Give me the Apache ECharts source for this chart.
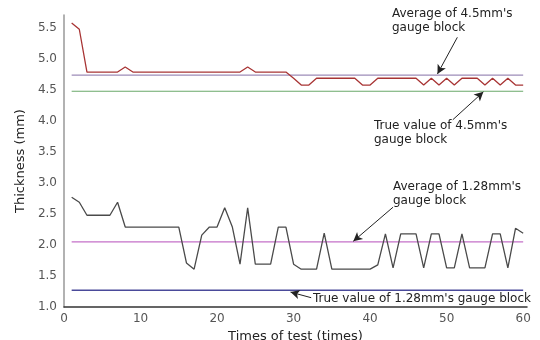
<!DOCTYPE html>
<html>
<head>
<meta charset="utf-8">
<script src="https://cdn.jsdelivr.net/npm/echarts@6/dist/echarts.min.js"></script>
<style>
  html, body { margin: 0; padding: 0; background: #fff; }
  #container { width: 540px; height: 340px; }
</style>
</head>
<body>
<div id="container"></div>
<script>
// test number 1..60
var tests = [];
for (var i = 1; i <= 60; i++) tests.push(i);

// 4.5mm gauge block readings
var thick45 = [5.58, 5.48, 4.79, 4.79, 4.79, 4.79, 4.79, 4.87, 4.79, 4.79,
               4.79, 4.79, 4.79, 4.79, 4.79, 4.79, 4.79, 4.79, 4.79, 4.79,
               4.79, 4.79, 4.79, 4.87, 4.79, 4.79, 4.79, 4.79, 4.79, 4.69,
               4.58, 4.58, 4.69, 4.69, 4.69, 4.69, 4.69, 4.69, 4.58, 4.58,
               4.69, 4.69, 4.69, 4.69, 4.69, 4.69, 4.58, 4.69, 4.58, 4.69,
               4.58, 4.69, 4.69, 4.69, 4.58, 4.69, 4.58, 4.69, 4.58, 4.58];

// 1.28mm gauge block readings
var thick128 = [2.77, 2.69, 2.48, 2.48, 2.48, 2.48, 2.69, 2.29, 2.29, 2.29,
                2.29, 2.29, 2.29, 2.29, 2.29, 1.71, 1.61, 2.16, 2.29, 2.29,
                2.60, 2.29, 1.69, 2.60, 1.69, 1.69, 1.69, 2.29, 2.29, 1.69,
                1.61, 1.61, 1.61, 2.19, 1.61, 1.61, 1.61, 1.61, 1.61, 1.61,
                1.68, 2.18, 1.63, 2.18, 2.18, 2.18, 1.63, 2.18, 2.18, 1.63,
                1.63, 2.18, 1.63, 1.63, 1.63, 2.18, 2.18, 1.63, 2.27, 2.19];

// reference lines
var avg45 = 4.74, true45 = 4.48, avg128 = 2.05, true128 = 1.27;

// annotation arrows [tailX, tailY, tipX, tipY] in data units
var arrows = [
  [51.4, 5.35, 48.8, 4.76],
  [50.8, 4.02, 54.8, 4.47],
  [43.0, 2.61, 37.8, 2.06],
  [32.3, 1.15, 29.6, 1.24]
];

function pairs(ys) {
  return ys.map(function (v, k) { return [tests[k], v]; });
}
function hline(v) {
  return [[tests[0], v], [tests[tests.length - 1], v]];
}

var myChart = echarts.init(document.getElementById('container'));
var font = 'DejaVu Sans, sans-serif';

var option = {
  animation: false,
  grid: { left: 64, right: 13, top: 15, bottom: 33, containLabel: false, outerBoundsMode: 'none' },
  xAxis: {
    type: 'value', min: 0, max: 60.5, interval: 10,
    name: 'Times of test (times)', nameLocation: 'middle', nameGap: 14,
    nameTextStyle: { fontFamily: font, fontSize: 13, color: '#222' },
    axisLine: { lineStyle: { color: '#333', width: 1.5 } },
    axisTick: { show: false },
    splitLine: { show: false },
    axisLabel: {
      fontFamily: font, fontSize: 12, color: '#555', margin: 6,
      formatter: function (v) { return v % 10 === 0 ? String(v) : ''; }
    }
  },
  yAxis: {
    type: 'value', min: 1.0, max: 5.71, interval: 0.5,
    name: 'Thickness (mm)', nameLocation: 'middle', nameGap: 34,
    nameTextStyle: { fontFamily: font, fontSize: 13, color: '#222' },
    axisLine: { show: true, lineStyle: { color: '#999', width: 1.5 } },
    axisTick: { show: false },
    splitLine: { show: false },
    axisLabel: {
      fontFamily: font, fontSize: 12, color: '#555', margin: 7,
      formatter: function (v) {
        return Math.abs(v * 2 - Math.round(v * 2)) < 1e-6 ? v.toFixed(1) : '';
      }
    }
  },
  series: [
    { type: 'line', data: hline(avg45), symbol: 'none', lineStyle: { color: '#9d8cb8', width: 1.2 } },
    { type: 'line', data: hline(true45), symbol: 'none', lineStyle: { color: '#6aa86a', width: 1.2 } },
    { type: 'line', data: hline(avg128), symbol: 'none', lineStyle: { color: '#c470c8', width: 1.2 } },
    { type: 'line', data: hline(true128), symbol: 'none', lineStyle: { color: '#4a4a9a', width: 1.5 } },
    { type: 'line', data: pairs(thick45), symbol: 'none', lineStyle: { color: '#a83434', width: 1.3 } },
    { type: 'line', data: pairs(thick128), symbol: 'none', lineStyle: { color: '#4a4a4a', width: 1.3 } },
    {
      type: 'line', data: [], symbol: 'none',
      markLine: {
        silent: true, animation: false,
        symbol: ['none', 'arrow'], symbolSize: [7, 9],
        label: { show: false },
        lineStyle: { color: '#222', width: 1, type: 'solid' },
        data: arrows.map(function (a) {
          return [{ coord: [a[0], a[1]] }, { coord: [a[2], a[3]] }];
        })
      }
    }
  ],
  graphic: [
    { type: 'text', left: 392, top: 7, style: { text: "Average of 4.5mm's\ngauge block", font: '12px ' + font, fill: '#222', lineHeight: 14 } },
    { type: 'text', left: 374, top: 119, style: { text: "True value of 4.5mm's\ngauge block", font: '12px ' + font, fill: '#222', lineHeight: 14 } },
    { type: 'text', left: 393, top: 180, style: { text: "Average of 1.28mm's\ngauge block", font: '12px ' + font, fill: '#222', lineHeight: 14 } },
    { type: 'text', left: 313, top: 293, style: { text: "True value of 1.28mm's gauge block", font: '12px ' + font, fill: '#222' } }
  ]
};

myChart.setOption(option);
</script>
</body>
</html>
